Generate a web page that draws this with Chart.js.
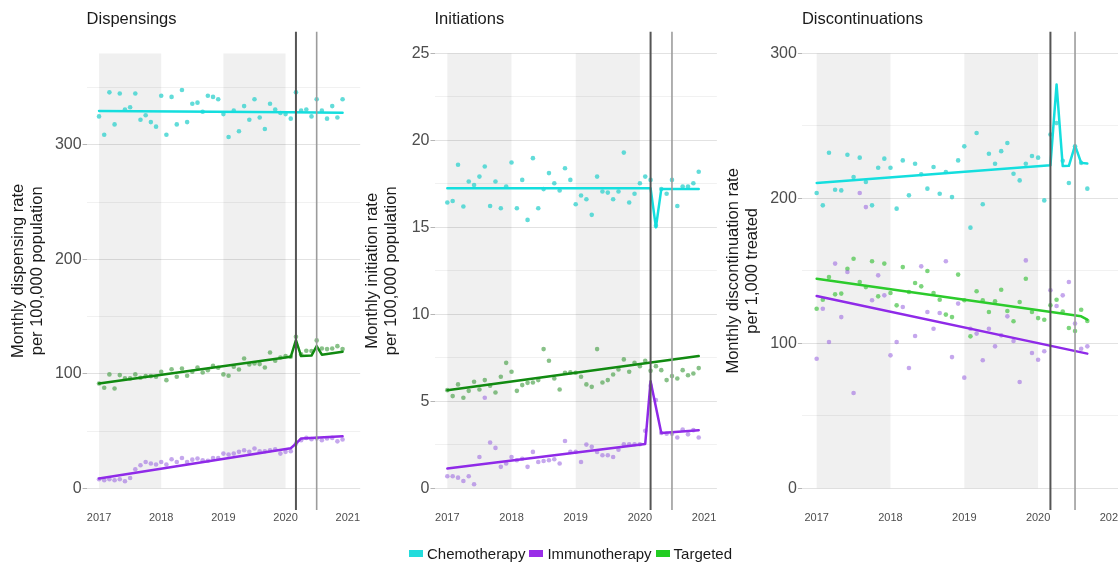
<!DOCTYPE html>
<html>
<head>
<meta charset="utf-8">
<script src="https://cdn.jsdelivr.net/npm/chart.js@4.4.1/dist/chart.umd.min.js"></script>
<style>
  html, body { margin: 0; padding: 0; width: 1118px; height: 564px; overflow: hidden; background: #fff;
               font-family: "Liberation Sans", Arial, sans-serif; }
  canvas { position: absolute; top: 0; }
  #legend { position: absolute; left: 409px; top: 545px; height: 16px; display: flex; align-items: center;
            font-size: 15px; color: #1a1a1a; white-space: nowrap; }
  #legend .key { display: inline-block; width: 14px; height: 7px; margin-right: 4px; }
  #legend .lab { margin-right: 4px; }
</style>
</head>
<body>
<canvas id="c1"></canvas>
<canvas id="c2"></canvas>
<canvas id="c3"></canvas>
<div id="legend"></div>
<script>
// ---- data: one value per month starting January 2017 ----
const START_YEAR = 2017;
const seriesNames = ['Chemotherapy', 'Immunotherapy', 'Targeted'];
const yearTicks = [2017, 2018, 2019, 2020, 2021];
const shadedYears = [[2017, 2018], [2019, 2020]];
const breakMonths = [38, 42];            // March 2020 and July 2020

// Dispensings (per 100,000 population)
const dispChemo = [325,309,346,318,345,331,333,345,322,326,320,316,
                   343,309,342,318,348,320,336,337,329,343,342,340,
                   327,307,330,312,334,322,340,324,314,336,331,328,
                   327,323,346,330,331,325,340,330,323,334,324,340];
const dispImmuno = [7.9,7,7.9,7,7.9,6.1,9,16.6,20.1,23,21.6,20.7,
                    23,20.7,25.4,23,26.5,23,25,26,24.5,24,26.5,26.5,
                    30.3,29.5,30.3,31.8,33.2,31.8,34.8,32.4,32.4,33.2,34,30.3,
                    31.8,32.4,39,42,44,42.9,43.5,42,43.5,44,41,42.6];
const dispTargeted = [91.6,87.8,99.5,87.2,98.9,96,96,99.5,96.6,98,98,97.5,
                      101.8,94.5,104,97.5,104.7,98.3,101.8,105.5,101.2,103.2,107,105.3,
                      99.5,98.3,106.2,103.8,113.4,108.2,109,108.5,105.5,118.7,111.4,114.3,
                      115.5,114.9,132.4,117,120.2,119.9,129.2,122.2,121.6,122.2,124.2,121.6];
// fitted segments as [month index, value]
const dispChemoFit = [[0,329.8],[37,328.6],[47,328.2]];
const dispImmunoFit = [[0,8.5],[37,35],[38,39],[39,43.5],[47,45.5]];
const dispTargetedFit = [[0,91.6],[37,114.9],[38,129.5],[39,115.5],[41,116],[42,124.2],[43,116.7],[47,119.3]];

// Initiations (per 100,000 population)
const initChemo = [16.43,16.52,18.6,16.2,17.64,17.44,17.92,18.5,16.23,17.64,16.1,17.35,
                   18.73,16.1,17.73,15.43,18.98,16.1,17.2,18.12,17.54,17.12,18.4,17.73,
                   16.33,16.83,16.62,15.72,17.92,17.06,17.0,16.62,17.06,19.3,16.43,16.93,
                   17.54,17.92,17.73,15.1,17.2,16.93,17.73,16.23,17.35,17.35,17.54,18.2];
const initImmuno = [0.69,0.69,0.61,0.42,0.69,0.23,1.8,5.2,2.63,2.32,1.23,1.42,
                    1.8,1.61,1.7,1.23,2.09,1.51,1.57,1.61,1.67,1.42,2.72,2.09,
                    2.09,1.51,2.51,2.38,2.09,1.9,1.9,1.8,2.22,2.53,2.53,2.53,
                    2.53,3.3,5.9,5.07,3.18,3.14,3.14,2.92,3.38,3.1,3.34,2.92];
const initTargeted = [5.64,5.3,5.97,5.2,5.6,6.12,5.68,6.22,5.9,5.51,6.41,7.21,
                      6.7,5.6,5.93,6.06,6.08,6.22,8.0,7.33,6.31,5.68,6.64,6.66,
                      6.64,6.41,5.97,5.83,8.0,6.08,6.22,6.54,6.83,7.41,6.7,7.21,
                      7.02,7.33,6.75,7.02,6.79,6.22,6.45,6.31,6.79,6.5,6.6,6.91];
const initChemoFit = [[0,17.25],[38,17.25],[39,15.0],[40,17.2],[47,17.2]];
const initImmunoFit = [[0,1.13],[37,2.55],[38,6.15],[40,3.18],[47,3.34]];
const initTargetedFit = [[0,5.64],[47,7.6]];

// Discontinuations (per 1,000 treated), January 2017 to September 2020
const discChemo = [203.7,195.2,231.5,206,205.5,230.1,214.7,228.1,211.3,195.2,221.1,227.4,
                   221.1,192.9,226.2,202.1,223.9,216.6,206.7,221.6,203.2,218.2,200.9,226.2,
                   235.9,179.8,245.1,195.9,230.8,223.9,232.6,238.2,217,212.4,223.9,229.2,
                   228.1,198.6,244.1,252,226,210.6,236,224.5,206.7];
const discImmuno = [89.4,123.9,100.9,155,118.1,149.2,65.7,203.7,194,129.7,146.9,133.1,
                    91.7,100.9,125.1,83,105,153.1,121.6,110.1,120.9,156.6,90.5,127.4,
                    76.3,110.1,106.7,88.3,110.1,97.9,105.5,118.6,101.6,73.3,157.2,93.3,
                    88.7,94.5,136.6,125.7,133.1,142.3,113.6,96.3,97.9];
const discTargeted = [123.9,130.1,145.7,133.8,134.3,151.5,158.4,142.3,138.8,156.6,132.4,155,
                      134.7,126.2,152.6,135.4,141.6,139.3,149.9,134.7,130.1,119.8,118.1,147.4,
                      129.7,104.8,135.9,129.7,121.6,129,137,122.3,115.2,128.5,144.6,121.6,
                      117.4,116.3,126.2,130.1,122,110.6,108.5,123.2,115.4];
const discChemoFit = [[0,210.6],[38,222.8],[39,278.6],[40,222.3],[41,222.5],[42,236.6],[43,224.5],[44,224]];
const discImmunoFit = [[0,132.6],[44,92.9]];
const discTargetedFit = [[0,144.6],[43,118.6],[44,116.3]];

// y-axis labels and lighter in-between grid lines
const dispYTicks = [0, 100, 200, 300];     const dispYMinor = [50, 150, 250, 350];
const initYTicks = [0, 5, 10, 15, 20, 25]; const initYMinor = [2.5, 7.5, 12.5, 17.5, 22.5];
const discYTicks = [0, 100, 200, 300];     const discYMinor = [50, 150, 250];

// ---- styling ----
const FONT = '"Liberation Sans", Arial, sans-serif';
Chart.defaults.font.family = FONT;
const colChemoLine = '#14dede', colChemoPt = 'rgba(45,208,204,0.75)';
const colImmunoLine = '#8f2ae8', colImmunoPt = 'rgba(150,95,222,0.55)';
const legendColors = ['#22dcdc', '#9a2ee8', '#22cc22'];

const toX = i => START_YEAR + i / 12;

function points(vals, color) {
  return { data: vals.map((v, i) => ({ x: toX(i), y: v })), backgroundColor: color,
           borderWidth: 0, pointRadius: 2.3, pointHoverRadius: 2.3, showLine: false, order: 2 };
}
function fitLine(knots, color) {
  return { data: knots.map(([i, v]) => ({ x: toX(i), y: v })), borderColor: color, backgroundColor: color,
           borderWidth: 2.5, pointRadius: 0, showLine: true, tension: 0, order: 1,
           borderJoinStyle: 'round', borderCapStyle: 'round' };
}

// grey year bands and interruption markers
const panelDecor = {
  id: 'panelDecor',
  beforeDatasetsDraw(chart, args, opts) {
    const { ctx, chartArea: a, scales: { x, y } } = chart;
    ctx.save();
    ctx.beginPath(); ctx.rect(a.left, a.top, a.width, a.height); ctx.clip();
    ctx.fillStyle = 'rgba(0,0,0,0.058)';
    const y0 = y.getPixelForValue(opts.bandTop), y1 = y.getPixelForValue(0);
    for (const [s, e] of shadedYears) {
      const x0 = x.getPixelForValue(s), x1 = x.getPixelForValue(e);
      ctx.fillRect(x0, y0, x1 - x0, y1 - y0);
    }
    ctx.restore();
  },
  afterDatasetsDraw(chart) {
    const { ctx, chartArea: a, scales: { x } } = chart;
    const styles = [{ c: '#555555', w: 2 }, { c: '#9c9c9c', w: 1.6 }];
    ctx.save();
    breakMonths.forEach((m, k) => {
      const px = x.getPixelForValue(toX(m));
      ctx.strokeStyle = styles[k].c; ctx.lineWidth = styles[k].w;
      ctx.beginPath(); ctx.moveTo(px, a.top); ctx.lineTo(px, a.bottom); ctx.stroke();
    });
    ctx.restore();
  }
};

// ---- layout ----
const CANVAS_H = 530, AREA_TOP = 31.7, AREA_BOTTOM = 510, XAXIS_H = 16;
const TITLE_SIZE = 16.5, LINE_H = TITLE_SIZE * 1.2;

function panel(id, g, p) {
  const el = document.getElementById(id);
  const width = Math.ceil(g.areaRight - g.canvasLeft + 18);
  el.width = width; el.height = CANVAS_H;
  el.style.left = g.canvasLeft + 'px';
  const padLeft = g.yTitleX - g.canvasLeft - LINE_H / 2;
  const yWidth = g.areaLeft - g.canvasLeft - padLeft;
  const padRight = width - (g.areaRight - g.canvasLeft);
  const majors = p.yTicks, minors = p.yMinor;
  const isMajor = v => majors.some(m => Math.abs(m - v) < 1e-9);
  new Chart(el, {
    type: 'scatter',
    data: { datasets: p.datasets },
    plugins: [panelDecor],
    options: {
      responsive: false, animation: false, events: [],
      layout: { padding: { left: padLeft, right: padRight, top: 0, bottom: CANVAS_H - AREA_BOTTOM - XAXIS_H } },
      plugins: {
        legend: { display: false }, tooltip: { enabled: false },
        title: { display: true, text: p.title, align: 'start', fullSize: false, color: '#1a1a1a',
                 font: { size: TITLE_SIZE, weight: 'normal', lineHeight: 1.2 },
                 padding: { top: 9.1, bottom: AREA_TOP - 9.1 - LINE_H } },
        panelDecor: { bandTop: p.bandTop }
      },
      scales: {
        x: {
          type: 'linear', min: 2016.8, max: 2021.2,
          afterBuildTicks: s => { s.ticks = yearTicks.map(v => ({ value: v })); },
          afterFit: s => { s.height = XAXIS_H; },
          border: { display: false },
          grid: { display: false, drawTicks: false },
          ticks: { padding: 1, maxRotation: 0, autoSkip: false, color: '#4d4d4d',
                   font: { size: 11 }, callback: v => String(v) }
        },
        y: {
          type: 'linear', min: p.yMin, max: p.yMax,
          afterBuildTicks: s => {
            s.ticks = majors.concat(minors).sort((a, b) => a - b).map(v => ({ value: v }));
          },
          afterFit: s => { s.width = yWidth; },
          border: { display: false },
          grid: {
            color: c => isMajor(c.tick.value) ? '#e2e2e2' : '#eeeeee',
            lineWidth: c => isMajor(c.tick.value) ? 1 : 0.8,
            tickLength: 4,
            tickColor: c => isMajor(c.tick.value) ? '#b5b5b5' : 'rgba(0,0,0,0)'
          },
          ticks: { padding: 1, autoSkip: false, color: '#4d4d4d', font: { size: 16 },
                   callback: v => isMajor(v) ? String(v) : '' },
          title: { display: true, text: p.yTitle, color: '#1a1a1a', padding: 0,
                   font: { size: TITLE_SIZE, lineHeight: 1.2 } }
        }
      }
    }
  });
}

panel('c1', { canvasLeft: 0, yTitleX: 18, areaLeft: 86.6, areaRight: 360.2 }, {
  title: 'Dispensings', yTitle: ['Monthly dispensing rate', 'per 100,000 population'],
  yMin: -19, yMax: 399, bandTop: 380, yTicks: dispYTicks, yMinor: dispYMinor,
  datasets: [
    points(dispChemo, colChemoPt), points(dispImmuno, colImmunoPt), points(dispTargeted, 'rgba(72,160,72,0.65)'),
    fitLine(dispChemoFit, colChemoLine), fitLine(dispImmunoFit, colImmunoLine), fitLine(dispTargetedFit, '#118a11')
  ]
});

panel('c2', { canvasLeft: 354, yTitleX: 372, areaLeft: 434.5, areaRight: 716.9 }, {
  title: 'Initiations', yTitle: ['Monthly initiation rate', 'per 100,000 population'],
  yMin: -1.25, yMax: 26.25, bandTop: 25, yTicks: initYTicks, yMinor: initYMinor,
  datasets: [
    points(initChemo, colChemoPt), points(initImmuno, colImmunoPt), points(initTargeted, 'rgba(72,160,72,0.65)'),
    fitLine(initChemoFit, colChemoLine), fitLine(initImmunoFit, colImmunoLine), fitLine(initTargetedFit, '#118a11')
  ]
});

panel('c3', { canvasLeft: 715, yTitleX: 733, areaLeft: 801.9, areaRight: 1126.7 }, {
  title: 'Discontinuations', yTitle: ['Monthly discontinuation rate', 'per 1,000 treated'],
  yMin: -15, yMax: 315, bandTop: 300, yTicks: discYTicks, yMinor: discYMinor,
  datasets: [
    points(discChemo, colChemoPt), points(discImmuno, colImmunoPt), points(discTargeted, 'rgba(70,195,70,0.7)'),
    fitLine(discChemoFit, colChemoLine), fitLine(discImmunoFit, colImmunoLine), fitLine(discTargetedFit, '#2ccb2c')
  ]
});

// shared legend
const legend = document.getElementById('legend');
seriesNames.forEach((name, k) => {
  const key = document.createElement('span');
  key.className = 'key'; key.style.background = legendColors[k];
  const lab = document.createElement('span');
  lab.className = 'lab'; lab.textContent = name;
  legend.appendChild(key); legend.appendChild(lab);
});
</script>
</body>
</html>
